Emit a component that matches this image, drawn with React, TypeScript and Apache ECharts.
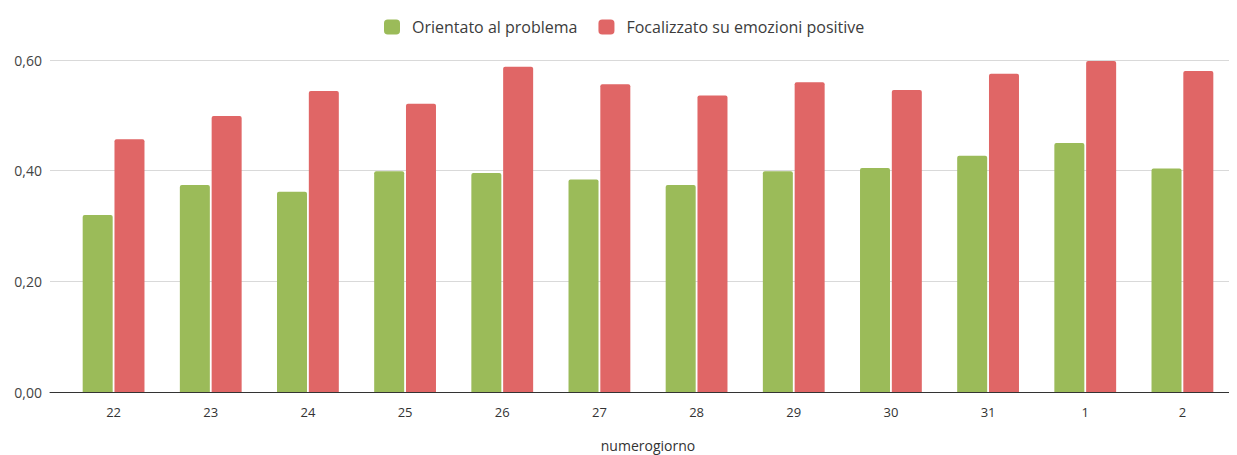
import React, { useEffect, useRef } from "react";
import * as echarts from "echarts";

const categories = ["22", "23", "24", "25", "26", "27", "28", "29", "30", "31", "1", "2"];
const orientato = [0.32, 0.374, 0.362, 0.399, 0.396, 0.384, 0.374, 0.399, 0.405, 0.427, 0.45, 0.404];
const focalizzato = [0.457, 0.499, 0.544, 0.521, 0.588, 0.556, 0.536, 0.56, 0.546, 0.575, 0.598, 0.58];
const seriesNames = ["Orientato al problema", "Focalizzato su emozioni positive"];
const xAxisName = "numerogiorno";

const FONT = "'Open Sans', 'Noto Sans', sans-serif";

export default function App() {
  const ref = useRef<HTMLDivElement>(null);
  useEffect(() => {
    if (!ref.current) return;
    const chart = echarts.init(ref.current, undefined, { renderer: "svg" });
    const fmt = (v: number) => v.toFixed(2).replace(".", ",");
    chart.setOption({
      animation: false,
      textStyle: { fontFamily: FONT },
      legend: {
        top: 14,
        left: 379,
        itemWidth: 16,
        itemHeight: 15,
        itemGap: 21,
        icon: "roundRect",
        textStyle: { fontSize: 16, color: "#3c3c3c", fontFamily: FONT, padding: [0, 0, 0, 7] },
        data: seriesNames,
      },
      grid: [
        { left: 65, right: 6, top: 60, bottom: 63, outerBoundsMode: "none", containLabel: false },
        { left: 50, right: 0, top: 60, bottom: 63, outerBoundsMode: "none", containLabel: false },
      ],
      xAxis: [
        {
          type: "category",
          gridIndex: 0,
          data: categories,
          axisLine: { show: false },
          axisTick: { show: false },
          axisLabel: { fontSize: 13, color: "#333", margin: 13, fontFamily: FONT },
          name: xAxisName,
          nameLocation: "middle",
          nameGap: 45,
          nameTextStyle: { fontSize: 14, lineHeight: 16, color: "#333", fontFamily: FONT },
        },
        {
          type: "category",
          gridIndex: 1,
          data: categories,
          axisLine: { show: true, lineStyle: { color: "#333", width: 1 } },
          axisTick: { show: false },
          axisLabel: { show: false },
        },
      ],
      yAxis: [
        {
          type: "value",
          gridIndex: 0,
          min: 0,
          max: 0.6,
          interval: 0.2,
          axisLabel: { show: false },
          splitLine: { show: false },
          axisLine: { show: false },
        },
        {
          type: "value",
          gridIndex: 1,
          min: 0,
          max: 0.6,
          interval: 0.2,
          axisLine: { show: false },
          axisTick: { show: false },
          axisLabel: { formatter: fmt, fontSize: 14, color: "#444", margin: 8, fontFamily: FONT },
          splitLine: { lineStyle: { color: "#d9d9d9", width: 1 } },
        },
      ],
      series: [
        {
          name: seriesNames[0],
          type: "bar",
          xAxisIndex: 0,
          yAxisIndex: 0,
          data: orientato,
          barWidth: 30,
          barGap: "6%",
          itemStyle: { color: "#9bbb59", borderRadius: [2, 2, 0, 0] },
        },
        {
          name: seriesNames[1],
          type: "bar",
          xAxisIndex: 0,
          yAxisIndex: 0,
          data: focalizzato,
          barWidth: 30,
          barGap: "6%",
          itemStyle: { color: "#e06666", borderRadius: [2, 2, 0, 0] },
        },
      ],
    });
    return () => chart.dispose();
  }, []);
  return <div ref={ref} style={{ width: 1237, height: 455, marginLeft: -8, marginTop: -8 }} />;
}
